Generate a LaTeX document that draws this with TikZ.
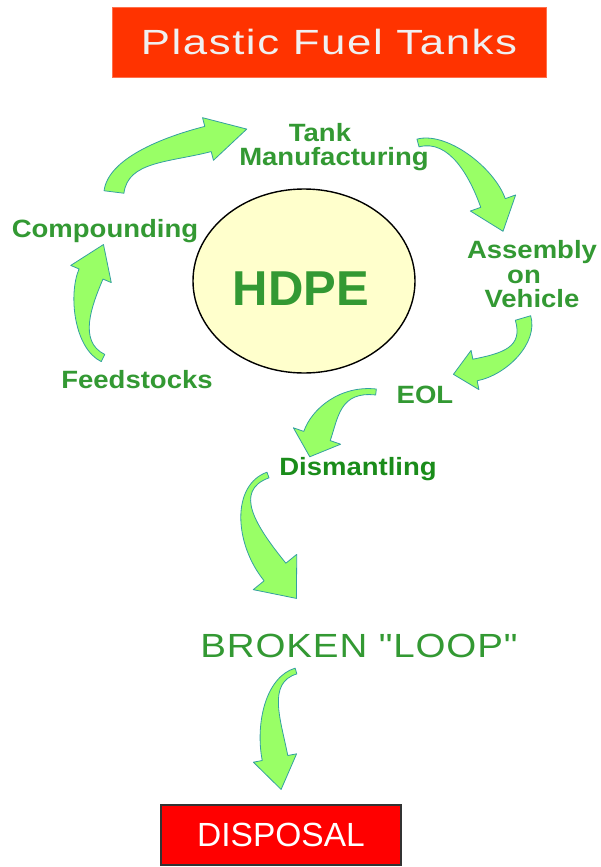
\documentclass[tikz,border=0pt]{standalone}
\usepackage{fontspec}
\setmainfont{Liberation Sans}
\newfontfamily\labfont[FakeStretch=1.1]{Liberation Sans}
\newfontfamily\titlefont[FakeStretch=1.25,LetterSpace=4.5]{Liberation Sans}
\newfontfamily\loopfont[FakeStretch=1.15,LetterSpace=2.5]{Liberation Sans}
\usetikzlibrary{calc,shapes.geometric}
\definecolor{lblgreen}{HTML}{339933}
\definecolor{dmgreen}{HTML}{1A8C1A}
\definecolor{arrfill}{HTML}{99FF66}
\definecolor{arrline}{HTML}{33A0A0}
\definecolor{titlered}{HTML}{FF3300}
\definecolor{ellfill}{HTML}{FFFFCC}
\tikzset{
  arrowshape/.style={fill=arrfill, draw=arrline, line width=0.8pt, line join=round},
  lbl/.style={font=\labfont\bfseries\fontsize{25}{25}\selectfont, text=lblgreen, inner sep=0pt, anchor=base},
}
% #1..#4 centerline Bezier points, #5 tail half-width, #6 shaft half-width at head,
% #7 head half-width, #8 head length
\newcommand{\greenarrow}[8]{%
 \path[arrowshape] ($#1!#5!90:#2$) .. controls ($#2!#5!-90:#1$) and ($#3!#6!90:#4$) .. ($#4!#6!-90:#3$)
   -- ($#4!#7!-90:#3$) -- ($#4!-#8!#3$) -- ($#4!#7!90:#3$) -- ($#4!#6!90:#3$)
   .. controls ($#3!#6!-90:#4$) and ($#2!#5!90:#1$) .. ($#1!#5!-90:#2$) -- cycle;}
\begin{document}
\begin{tikzpicture}[x=1pt,y=-1pt]
\useasboundingbox[fill=white] (0,0) rectangle (601,867);
% title
\node[fill=titlered, draw=titlered!70!white, line width=0.6pt, minimum width=434pt, minimum height=70pt, inner sep=0pt,
      text=white!94!black, font=\titlefont\fontsize{35}{35}\selectfont] (title) at (329,42) {Plastic Fuel Tanks};
% ellipse
\node[ellipse, draw=black, line width=1.4pt, fill=ellfill, minimum width=222pt, minimum height=184pt] (hdpeshape) at (304,281) {};
\node[anchor=base, inner sep=0pt, text=lblgreen, font=\bfseries\fontsize{49}{49}\selectfont] (hdpe) at (301,305) {HDPE};
% arrows
\greenarrow{(114,192)}{(118,160)}{(165,150)}{(208,139)}{10pt}{13pt}{22pt}{40pt}
\greenarrow{(418,143)}{(448,135)}{(482,172)}{(493,203)}{4pt}{13pt}{24pt}{30pt}
\greenarrow{(523,318)}{(531,345)}{(505,364)}{(475,370)}{8pt}{11pt}{20pt}{22pt}
\greenarrow{(376,392)}{(340,388)}{(325,413)}{(317,436)}{3pt}{14pt}{25pt}{22pt}
\greenarrow{(268,475)}{(232,488)}{(245,535)}{(275,572)}{3pt}{14pt}{28pt}{34pt}
\greenarrow{(296,671)}{(266,680)}{(268,722)}{(275,758)}{3pt}{13pt}{22pt}{32pt}
\greenarrow{(103,358)}{(76,345)}{(80,300)}{(91,274)}{4pt}{13pt}{22pt}{32pt}
% labels
\node[lbl] (tank) at (320,141) {Tank};
\node[lbl] (manuf) at (334,165) {Manufacturing};
\node[lbl] (asm1) at (532,258) {Assembly};
\node[lbl] (asm2) at (524,283) {on};
\node[lbl] (asm3) at (532,307) {Vehicle};
\node[lbl] (comp) at (105,237) {Compounding};
\node[lbl] (feed) at (137,388) {Feedstocks};
\node[lbl] (eol) at (425,403) {EOL};
\node[lbl, text=dmgreen] (dism) at (358,475) {Dismantling};
\node[anchor=base, inner sep=0pt, text=lblgreen, font=\loopfont\fontsize{33.5}{33.5}\selectfont] (loop) at (359,657) {BROKEN "LOOP"};
% disposal
\node[fill=red, draw=black!80, line width=2pt, minimum width=240pt, minimum height=60pt, inner sep=0pt,
      text=white, font=\fontsize{33.5}{33.5}\selectfont] (disposal) at (281,835) {DISPOSAL};
\end{tikzpicture}
\end{document}
